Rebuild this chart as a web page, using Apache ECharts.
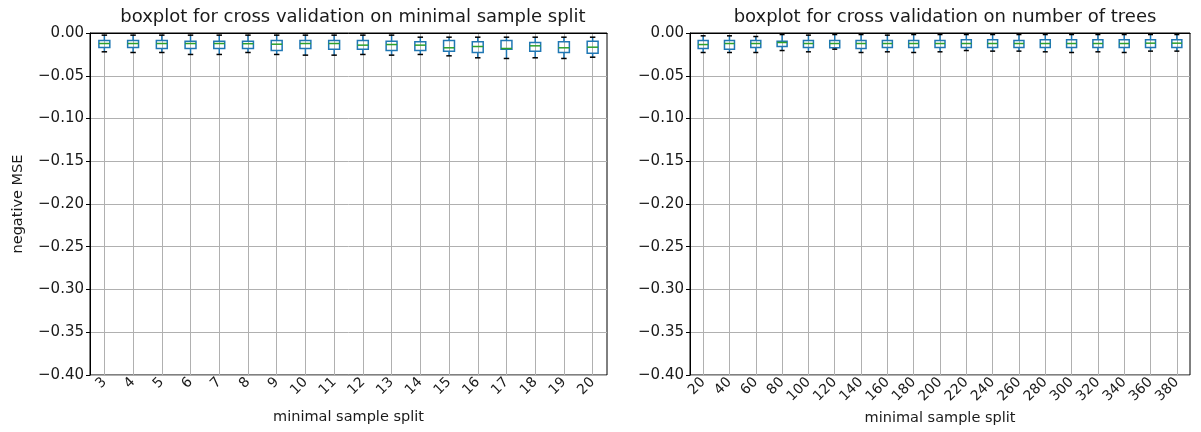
<!DOCTYPE html>
<html>
<head>
<meta charset="utf-8">
<script src="https://cdn.jsdelivr.net/npm/echarts@6/dist/echarts.min.js"></script>
<style>
	html, body { margin: 0; padding: 0; background: #fff; }
	#chart { width: 1201px; height: 432px; }
</style>
</head>
<body>
<div id="chart"></div>
<script>
// minimal sample split (left panel)
var splitLabels = ['3', '4', '5', '6', '7', '8', '9', '10', '11', '12', '13', '14', '15', '16', '17', '18', '19', '20'];
var splitMin = [-0.0220, -0.0228, -0.0228, -0.0251, -0.0251, -0.0228, -0.0251, -0.0259, -0.0259, -0.0251, -0.0259, -0.0251, -0.0267, -0.0290, -0.0298, -0.0290, -0.0298, -0.0283];
var splitQ1 = [-0.0170, -0.0170, -0.0181, -0.0181, -0.0181, -0.0181, -0.0205, -0.0181, -0.0189, -0.0189, -0.0205, -0.0205, -0.0212, -0.0228, -0.0189, -0.0212, -0.0228, -0.0236];
var splitMed = [-0.0123, -0.0123, -0.0123, -0.0123, -0.0123, -0.0125, -0.0131, -0.0123, -0.0123, -0.0142, -0.0135, -0.0142, -0.0173, -0.0158, -0.0181, -0.0150, -0.0173, -0.0166];
var splitQ3 = [-0.0088, -0.0088, -0.0088, -0.0096, -0.0096, -0.0096, -0.0088, -0.0088, -0.0088, -0.0088, -0.0096, -0.0103, -0.0088, -0.0103, -0.0088, -0.0111, -0.0103, -0.0096];
var splitMax = [-0.0025, -0.0025, -0.0025, -0.0025, -0.0025, -0.0025, -0.0025, -0.0025, -0.0025, -0.0025, -0.0025, -0.0049, -0.0049, -0.0049, -0.0049, -0.0049, -0.0049, -0.0049];

// number of trees (right panel)
var treeLabels = ['20', '40', '60', '80', '100', '120', '140', '160', '180', '200', '220', '240', '260', '280', '300', '320', '340', '360', '380'];
var treeMin = [-0.0228, -0.0228, -0.0228, -0.0205, -0.0220, -0.0189, -0.0228, -0.0220, -0.0228, -0.0220, -0.0205, -0.0212, -0.0212, -0.0220, -0.0228, -0.0220, -0.0228, -0.0212, -0.0212];
var treeQ1 = [-0.0181, -0.0189, -0.0170, -0.0158, -0.0170, -0.0173, -0.0181, -0.0170, -0.0170, -0.0170, -0.0170, -0.0170, -0.0170, -0.0170, -0.0170, -0.0170, -0.0170, -0.0170, -0.0170];
var treeMed = [-0.0135, -0.0123, -0.0123, -0.0111, -0.0123, -0.0123, -0.0123, -0.0123, -0.0123, -0.0123, -0.0123, -0.0123, -0.0123, -0.0123, -0.0123, -0.0123, -0.0123, -0.0119, -0.0119];
var treeQ3 = [-0.0088, -0.0088, -0.0088, -0.0096, -0.0088, -0.0088, -0.0088, -0.0088, -0.0088, -0.0088, -0.0080, -0.0080, -0.0088, -0.0080, -0.0080, -0.0080, -0.0080, -0.0080, -0.0080];
var treeMax = [-0.0033, -0.0033, -0.0041, -0.0018, -0.0025, -0.0018, -0.0018, -0.0025, -0.0018, -0.0018, -0.0018, -0.0018, -0.0018, -0.0018, -0.0018, -0.0018, -0.0018, -0.0018, -0.0018];

var yTicks = { min: -0.40, max: 0, step: 0.05 };

var FONT = 'DejaVu Sans';
var TXT = '#1a1a1a';
var BLUE = '#1f77b4';
var GREEN = '#2ca02c';

function buildRows(mn, q1, md, q3, mx) {
	var rows = [];
	for (var i = 0; i < mn.length; i++) {
		rows.push([i, mn[i], q1[i], md[i], q3[i], mx[i]]);
	}
	return rows;
}

// 画一个箱线（matplotlib 风格：蓝框、绿中位线、黑色端线）
function renderBox(params, api) {
	var x = api.value(0);
	var pMin = api.coord([x, api.value(1)]);
	var pQ1 = api.coord([x, api.value(2)]);
	var pMed = api.coord([x, api.value(3)]);
	var pQ3 = api.coord([x, api.value(4)]);
	var pMax = api.coord([x, api.value(5)]);
	var band = api.size([1, 0])[0];
	var bw = band * 0.38;
	var cw = bw / 2;
	var cx = pMed[0];
	function seg(x1, y1, x2, y2, color) {
		return { type: 'line', shape: { x1: x1, y1: y1, x2: x2, y2: y2 }, style: { stroke: color, lineWidth: 1.5 } };
	}
	return {
		type: 'group',
		children: [
			seg(cx, pMax[1], cx, pQ3[1], BLUE),
			seg(cx, pQ1[1], cx, pMin[1], BLUE),
			{ type: 'rect', shape: { x: cx - bw / 2, y: pQ3[1], width: bw, height: pQ1[1] - pQ3[1] },
				style: { fill: null, stroke: BLUE, lineWidth: 1.5 } },
			seg(cx - bw / 2, pMed[1], cx + bw / 2, pMed[1], GREEN),
			seg(cx - cw / 2, pMax[1], cx + cw / 2, pMax[1], '#000'),
			seg(cx - cw / 2, pMin[1], cx + cw / 2, pMin[1], '#000')
		]
	};
}

function fmtY(v) {
	var s = Math.abs(v) < 1e-9 ? '0.00' : v.toFixed(2);
	return s.replace('-', '\u2212');
}

function xAxisCfg(idx, labels) {
	return {
		type: 'category',
		gridIndex: idx,
		data: labels,
		boundaryGap: true,
		name: 'minimal sample split',
		nameLocation: 'middle',
		nameGap: 35,
		nameTextStyle: { fontFamily: FONT, fontSize: 14.5, color: TXT },
		axisLine: { lineStyle: { color: '#000', width: 1 } },
		axisTick: { alignWithLabel: true, length: 4, lineStyle: { color: '#000' } },
		axisLabel: { rotate: 45, margin: 5, interval: 0, fontFamily: FONT, fontSize: 14, color: TXT },
		splitLine: { show: true, alignWithLabel: true, lineStyle: { color: '#b0b0b0', width: 1 } }
	};
}

function yAxisCfg(idx, withName) {
	return {
		type: 'value',
		gridIndex: idx,
		min: yTicks.min,
		max: yTicks.max,
		interval: yTicks.step,
		name: withName ? 'negative MSE' : '',
		nameLocation: 'middle',
		nameGap: 64,
		nameTextStyle: { fontFamily: FONT, fontSize: 14.5, color: TXT },
		axisLine: { show: true, lineStyle: { color: '#000', width: 1 } },
		axisTick: { show: true, length: 4, lineStyle: { color: '#000' } },
		axisLabel: { margin: 6, fontFamily: FONT, fontSize: 15, color: TXT, formatter: fmtY },
		splitLine: { show: true, lineStyle: { color: '#b0b0b0', width: 1 } }
	};
}

var chart = echarts.init(document.getElementById('chart'), null, { renderer: 'canvas' });

chart.setOption({
	backgroundColor: '#fff',
	animation: false,
	title: [
		{ text: 'boxplot for cross validation on minimal sample split', left: 348, top: 3, textAlign: 'center',
			textStyle: { fontFamily: FONT, fontSize: 18, fontWeight: 'normal', color: TXT } },
		{ text: 'boxplot for cross validation on number of trees', left: 940, top: 3, textAlign: 'center',
			textStyle: { fontFamily: FONT, fontSize: 18, fontWeight: 'normal', color: TXT } }
	],
	grid: [
		{ left: 90, right: 594, top: 33, bottom: 57, show: true, borderColor: '#000', borderWidth: 1 },
		{ left: 690, right: 11, top: 33, bottom: 57, show: true, borderColor: '#000', borderWidth: 1 }
	],
	xAxis: [xAxisCfg(0, splitLabels), xAxisCfg(1, treeLabels)],
	yAxis: [yAxisCfg(0, true), yAxisCfg(1, false)],
	series: [
		{
			type: 'custom',
			name: 'split',
			xAxisIndex: 0,
			yAxisIndex: 0,
			renderItem: renderBox,
			encode: { x: 0, y: [1, 2, 3, 4, 5] },
			data: buildRows(splitMin, splitQ1, splitMed, splitQ3, splitMax),
			clip: false
		},
		{
			type: 'custom',
			name: 'trees',
			xAxisIndex: 1,
			yAxisIndex: 1,
			renderItem: renderBox,
			encode: { x: 0, y: [1, 2, 3, 4, 5] },
			data: buildRows(treeMin, treeQ1, treeMed, treeQ3, treeMax),
			clip: false
		}
	]
});
</script>
</body>
</html>
